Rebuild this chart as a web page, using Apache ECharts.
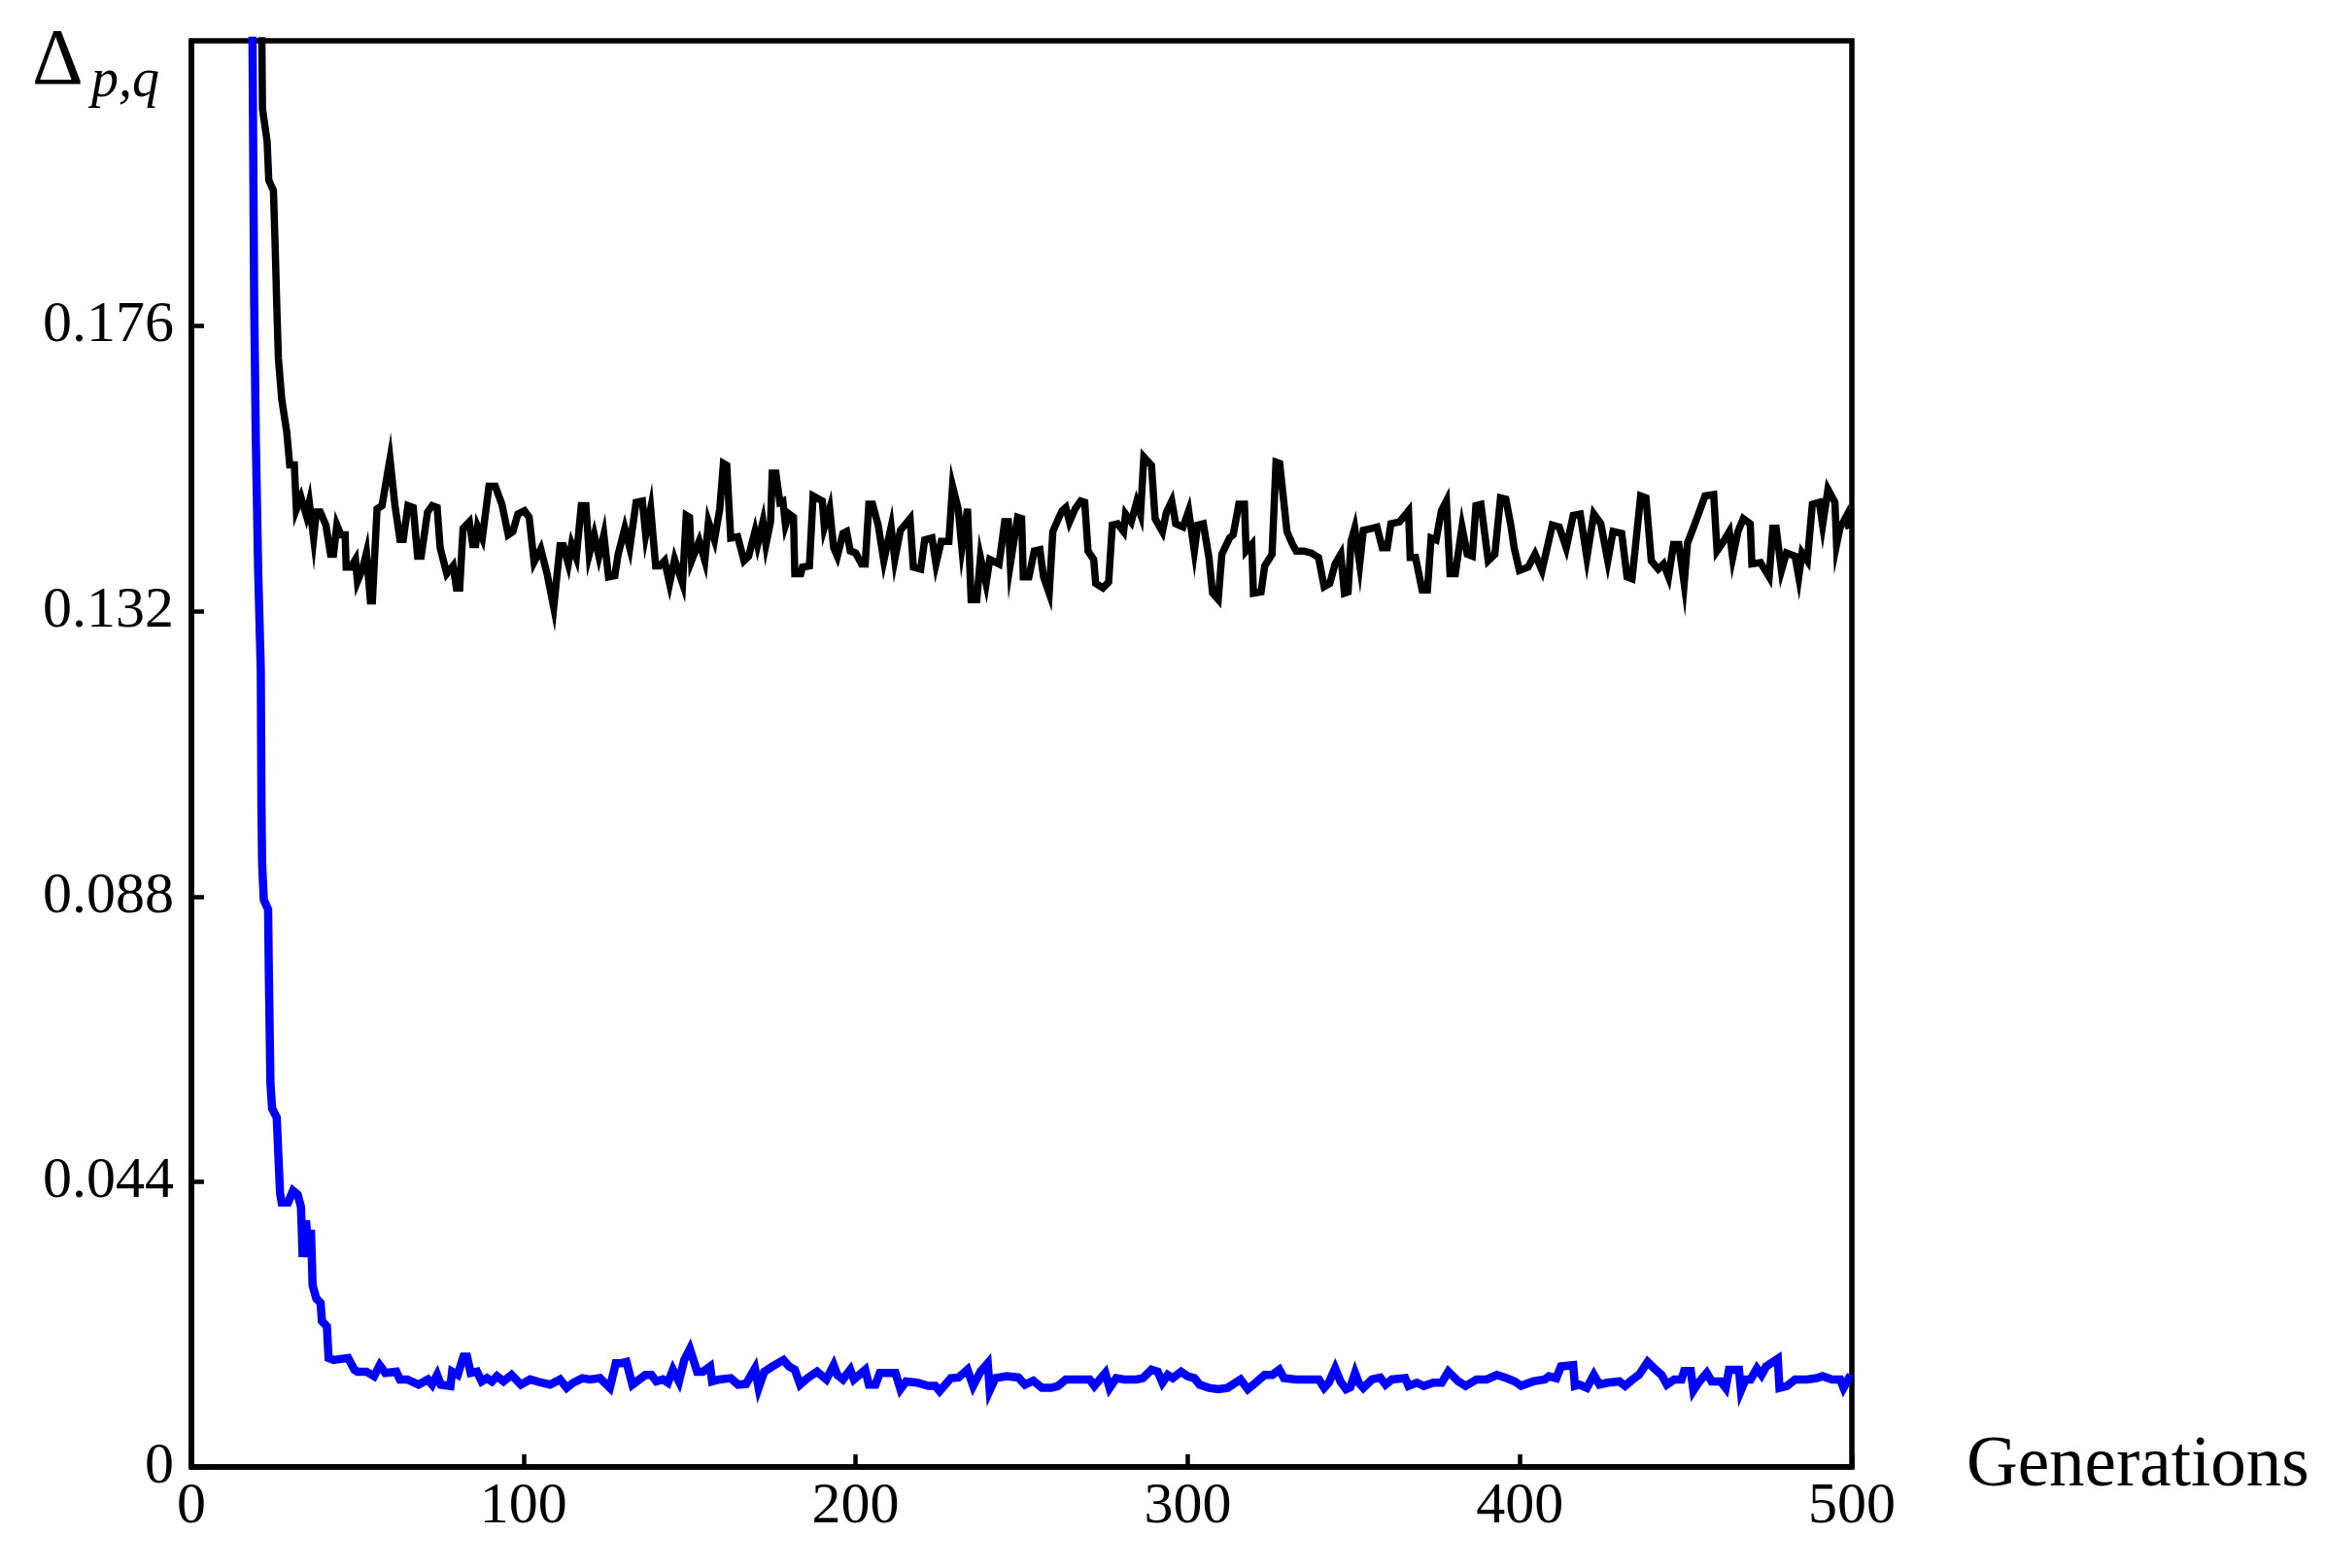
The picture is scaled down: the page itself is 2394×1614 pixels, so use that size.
<!DOCTYPE html>
<html>
<head>
<meta charset="utf-8">
<script src="https://cdn.jsdelivr.net/npm/echarts@6/dist/echarts.min.js"></script>
<style>
html,body{margin:0;padding:0;background:#fff;}
#chart{width:2394px;height:1614px;}
</style>
</head>
<body>
<div id="chart"></div>
<script>
// ---- data ----
const xTicks = [0, 100, 200, 300, 400, 500];
const yTicks = [0, 0.044, 0.088, 0.132, 0.176];
const xAxisName = 'Generations';

const blackGen = [20.8,21.4,22.8,23.3,24.7,25.2,25.7,26.2,27.2,28.7,29.6,31.0,31.6,33.0,34.6,35.5,36.8,37.6,38.8,40.5,41.9,42.8,43.8,45.0,46.3,46.6,48.0,49.4,50.0,51.5,52.7,53.9,54.5,55.9,57.4,59.8,61.3,62.8,63.8,65.2,66.8,68.1,69.2,71.1,72.5,74.0,74.9,76.9,78.8,79.8,80.8,81.8,83.7,84.7,85.6,86.2,87.6,89.6,91.5,93.5,95.4,96.8,98.3,100.3,101.7,103.2,105.2,107.1,109.1,111.0,112.0,113.5,114.5,115.9,117.4,118.8,119.8,121.3,122.7,124.2,125.6,127.5,128.5,130.5,132.0,133.9,135.8,136.8,138.3,139.8,141.0,142.5,144.0,145.5,147.9,149.0,150.0,150.6,152.9,154.6,155.7,157.5,159.1,160.2,161.2,162.4,164.5,166.4,167.8,169.7,170.5,172.1,173.0,174.4,174.9,176.0,177.2,178.1,178.9,180.0,181.3,181.7,183.5,184.0,186.1,187.2,190.0,190.6,192.2,193.4,194.5,196.2,197.3,198.4,200.0,201.8,202.9,204.0,205.1,206.8,208.5,210.7,211.8,213.5,216.4,217.4,219.6,220.8,223.0,224.2,225.8,228.1,229.2,230.9,232.0,233.7,234.8,236.5,237.6,239.3,240.4,243.2,244.9,246.0,246.6,248.8,250.0,250.5,252.2,253.8,255.5,256.6,258.3,259.4,261.1,262.2,263.3,264.4,266.1,267.8,269.0,270.0,271.7,272.3,274.5,276.2,277.3,278.9,280.7,281.3,283.0,284.6,285.8,286.8,289.1,290.2,292.4,293.6,295.2,296.4,298.6,300.3,302.0,303.0,304.7,306.4,307.5,309.2,310.3,312.6,313.7,315.4,317.1,317.6,319.3,319.8,322.1,323.2,325.4,326.6,327.7,329.9,331.6,332.7,334.9,337.2,339.4,341.1,342.8,344.4,346.1,347.2,348.3,349.2,350.3,351.8,352.9,355.5,357.0,358.6,360.1,361.2,363.8,366.5,367.0,368.6,370.6,372.2,373.3,374.8,376.4,377.9,379.0,380.6,382.6,384.2,385.7,386.8,388.3,390.5,392.5,394.2,395.8,397.3,398.3,399.9,402.5,404.6,406.7,409.8,411.9,414.0,416.1,418.2,420.2,422.3,424.4,426.5,428.1,430.7,432.3,433.8,434.9,436.4,438.0,439.6,441.7,443.3,444.8,446.3,447.9,449.5,450.5,452.6,455.8,458.4,459.4,461.0,463.1,464.1,465.7,467.3,469.4,469.9,472.5,475.1,476.2,477.2,478.8,480.3,482.9,484.0,485.0,486.6,488.1,490.2,491.2,492.8,494.9,495.4,496.4,498.5,499.0,500.0];
const blackVal = [0.245,0.2095,0.2045,0.1985,0.1969,0.1887,0.1792,0.1710,0.1647,0.1597,0.1546,0.1546,0.1477,0.1496,0.1468,0.1488,0.1433,0.1473,0.1473,0.1453,0.1408,0.1408,0.1453,0.1438,0.1438,0.1388,0.1388,0.1400,0.1366,0.1385,0.1410,0.1336,0.1336,0.1478,0.1483,0.1555,0.1483,0.1431,0.1431,0.1483,0.1480,0.1405,0.1405,0.1473,0.1483,0.1480,0.1418,0.1378,0.1390,0.1356,0.1356,0.1448,0.1458,0.1423,0.1423,0.1450,0.1433,0.1513,0.1513,0.1485,0.1438,0.1443,0.1470,0.1475,0.1465,0.1396,0.1416,0.1378,0.1326,0.1421,0.1421,0.1393,0.1423,0.1403,0.1483,0.1483,0.1408,0.1438,0.1405,0.1438,0.1373,0.1375,0.1408,0.1448,0.1418,0.1488,0.1490,0.1438,0.1478,0.1390,0.1390,0.1398,0.1363,0.1400,0.1363,0.1468,0.1465,0.1398,0.1428,0.1398,0.1458,0.1430,0.1478,0.1548,0.1545,0.1433,0.1435,0.1398,0.1405,0.1443,0.1423,0.1458,0.1423,0.1458,0.1533,0.1533,0.1488,0.1490,0.1453,0.1470,0.1465,0.1378,0.1378,0.1388,0.1390,0.1498,0.1490,0.1450,0.1478,0.1418,0.1405,0.1440,0.1443,0.1413,0.1410,0.1393,0.1393,0.1485,0.1485,0.1453,0.1398,0.1450,0.1400,0.1445,0.1463,0.1388,0.1385,0.1430,0.1433,0.1393,0.1428,0.1428,0.1513,0.1478,0.1418,0.1478,0.1338,0.1338,0.1403,0.1363,0.1400,0.1393,0.1458,0.1458,0.1393,0.1465,0.1463,0.1373,0.1373,0.1413,0.1415,0.1373,0.1348,0.1443,0.1463,0.1475,0.1480,0.1458,0.1478,0.1490,0.1488,0.1413,0.1400,0.1363,0.1356,0.1365,0.1453,0.1455,0.1443,0.1470,0.1458,0.1488,0.1470,0.1558,0.1545,0.1463,0.1443,0.1473,0.1490,0.1455,0.1450,0.1475,0.1413,0.1453,0.1455,0.1403,0.1348,0.1338,0.1408,0.1433,0.1438,0.1485,0.1485,0.1413,0.1423,0.1348,0.1350,0.1390,0.1408,0.1550,0.1548,0.1443,0.1423,0.1413,0.1413,0.1410,0.1403,0.1358,0.1363,0.1393,0.1408,0.1348,0.1350,0.1428,0.1448,0.1393,0.1445,0.1448,0.1450,0.1418,0.1418,0.1455,0.1458,0.1475,0.1403,0.1403,0.1353,0.1353,0.1433,0.1430,0.1475,0.1490,0.1378,0.1378,0.1450,0.1408,0.1405,0.1483,0.1485,0.1398,0.1408,0.1495,0.1493,0.1453,0.1418,0.1383,0.1388,0.1408,0.1383,0.1453,0.1450,0.1418,0.1468,0.1470,0.1403,0.1470,0.1455,0.1398,0.1443,0.1440,0.1373,0.1370,0.1423,0.1498,0.1495,0.1398,0.1385,0.1393,0.1373,0.1423,0.1423,0.1363,0.1425,0.1453,0.1498,0.1500,0.1413,0.1425,0.1443,0.1403,0.1443,0.1463,0.1455,0.1393,0.1395,0.1373,0.1448,0.1448,0.1383,0.1410,0.1405,0.1373,0.1410,0.1398,0.1485,0.1488,0.1453,0.1508,0.1488,0.1423,0.1448,0.1468,0.1453,0.1455];

const blueGen = [17.6,18.4,18.9,19.4,20.1,20.9,21.1,21.3,21.8,23.1,23.3,23.8,24.3,25.7,26.2,26.7,27.2,29.1,30.6,32.0,33.0,33.5,34.5,35.5,36.0,36.5,37.6,38.9,39.3,40.8,41.3,42.8,47.2,49.1,50.0,52.7,55.0,56.7,58.4,61.7,62.8,65.0,68.4,71.2,72.5,74.0,75.1,78.0,78.5,80.2,81.9,83.0,84.1,86.0,87.4,89.0,90.5,92.0,94.0,96.4,99.2,102.0,105.4,108.0,111.0,113.0,115.0,117.7,120.0,123.0,126.0,127.8,129.5,131.0,132.8,136.7,138.5,140.0,142.0,143.5,145.0,146.8,148.4,150.1,152.3,154.0,156.2,156.8,159.0,162.4,164.6,167.0,169.7,170.8,172.5,174.9,178.3,180.0,181.7,183.3,185.5,188.4,191.2,193.4,194.5,196.2,198.4,199.5,202.9,204.0,206.0,207.3,212.0,213.5,215.2,218.5,221.9,224.0,225.3,228.7,231.0,233.7,235.4,237.6,239.8,240.4,242.1,245.5,249.0,251.0,253.5,256.1,259.0,261.0,263.3,267.0,270.5,271.9,275.2,276.5,278.5,281.0,284.5,286.5,289.1,291.0,292.4,294.0,295.5,298.0,300.0,302.0,303.6,306.4,309.2,312.0,315.9,318.1,320.5,323.2,325.5,327.6,329.0,332.7,336.0,339.5,341.1,342.5,344.4,346.0,347.7,349.0,350.4,351.5,352.9,355.5,358.0,359.6,361.5,365.5,366.5,369.0,371.1,374.0,376.5,378.5,381.5,383.7,387.0,390.0,393.1,396.0,398.5,400.4,404.0,407.5,408.8,411.0,412.4,416.1,416.6,418.0,420.2,422.3,424.0,426.5,430.0,431.7,434.0,435.9,438.5,440.5,442.7,444.3,446.5,448.7,449.5,451.5,452.3,453.8,456.3,457.8,460.5,462.0,463.0,466.0,466.6,468.0,469.5,471.4,472.8,474.2,477.7,478.2,480.5,482.9,486.5,489.5,491.2,494.0,496.5,497.5,499.1,500.0];
const blueVal = [0.255,0.2202,0.1798,0.1584,0.1383,0.1228,0.1016,0.0931,0.0875,0.0860,0.0769,0.0592,0.0553,0.0539,0.0479,0.0422,0.0408,0.0408,0.0426,0.0420,0.0401,0.0324,0.0380,0.0324,0.0366,0.0280,0.0260,0.0253,0.0225,0.0217,0.0168,0.0165,0.0168,0.0150,0.0147,0.0147,0.0140,0.0157,0.0145,0.0147,0.0135,0.0135,0.0127,0.0135,0.0127,0.0142,0.0127,0.0125,0.0147,0.0142,0.0170,0.0170,0.0145,0.0147,0.0132,0.0137,0.0132,0.0140,0.0132,0.0142,0.0127,0.0135,0.0130,0.0127,0.0135,0.0122,0.0130,0.0137,0.0135,0.0137,0.0122,0.0160,0.0160,0.0162,0.0127,0.0142,0.0142,0.0132,0.0135,0.0130,0.0150,0.0132,0.0165,0.0182,0.0147,0.0147,0.0155,0.0132,0.0135,0.0137,0.0127,0.0128,0.0152,0.0122,0.0147,0.0155,0.0165,0.0155,0.0150,0.0127,0.0137,0.0147,0.0135,0.0157,0.0142,0.0135,0.0150,0.0135,0.0150,0.0127,0.0127,0.0145,0.0145,0.0120,0.0132,0.0130,0.0125,0.0125,0.0117,0.0137,0.0138,0.0150,0.0125,0.0147,0.0160,0.0118,0.0137,0.0140,0.0138,0.0127,0.0133,0.0122,0.0122,0.0125,0.0135,0.0135,0.0135,0.0125,0.0145,0.0122,0.0137,0.0135,0.0135,0.0137,0.0150,0.0147,0.0130,0.0142,0.0137,0.0147,0.0140,0.0137,0.0127,0.0122,0.0120,0.0122,0.0135,0.0120,0.0130,0.0142,0.0142,0.0150,0.0137,0.0135,0.0135,0.0135,0.0122,0.0130,0.0152,0.0132,0.0120,0.0123,0.0145,0.0130,0.0122,0.0135,0.0138,0.0127,0.0135,0.0137,0.0125,0.0130,0.0125,0.0130,0.0130,0.0147,0.0132,0.0125,0.0135,0.0135,0.0142,0.0137,0.0132,0.0125,0.0132,0.0135,0.0140,0.0137,0.0155,0.0157,0.0125,0.0127,0.0122,0.0142,0.0127,0.0130,0.0132,0.0125,0.0135,0.0142,0.0162,0.0152,0.0142,0.0127,0.0135,0.0135,0.0148,0.0148,0.0118,0.0130,0.0145,0.0132,0.0132,0.0122,0.0150,0.0150,0.0118,0.0135,0.0135,0.0152,0.0142,0.0155,0.0167,0.0122,0.0125,0.0135,0.0135,0.0137,0.0140,0.0135,0.0135,0.0122,0.0137,0.0135];

// ---- chart ----
const FONT = '"Liberation Serif", "Times New Roman", serif';
const pairs = (g, v) => g.map((x, i) => [x, v[i]]);

const chart = echarts.init(document.getElementById('chart'), null, { renderer: 'canvas' });
chart.setOption({
  animation: false,
  backgroundColor: '#ffffff',
  grid: { left: 197, right: 488, top: 42, bottom: 104, show: true, borderColor: '#000', borderWidth: 5.5, backgroundColor: 'transparent' },
  xAxis: {
    type: 'value', min: xTicks[0], max: xTicks[xTicks.length - 1], interval: xTicks[1] - xTicks[0],
    name: xAxisName, nameLocation: 'end', nameGap: 118,
    nameTextStyle: { fontFamily: FONT, fontSize: 73, color: '#000', verticalAlign: 'middle', padding: [0, 0, 6, 0] },
    axisLine: { show: true, lineStyle: { color: '#000', width: 5.5 } },
    axisTick: { show: true, inside: true, length: 13, lineStyle: { color: '#000', width: 4.5 } },
    axisLabel: { fontFamily: FONT, fontSize: 60, color: '#000', margin: 11 },
    splitLine: { show: false }
  },
  yAxis: {
    type: 'value', min: 0, max: 0.22, interval: yTicks[1] - yTicks[0],
    axisLine: { show: true, lineStyle: { color: '#000', width: 5.5 } },
    axisTick: { show: true, inside: true, length: 13, lineStyle: { color: '#000', width: 4.5 } },
    axisLabel: {
      fontFamily: FONT, fontSize: 60, color: '#000', margin: 18, showMaxLabel: false,
      formatter: v => { const t = yTicks.find(k => Math.abs(k - v) < 1e-9); return t === undefined ? '' : (t === 0 ? '0' : t.toFixed(3)); }
    },
    splitLine: { show: false }
  },
  graphic: [
    { type: 'text', x: 33, y: 64, style: { text: 'Δ', fontFamily: FONT, fontSize: 82, fill: '#000', align: 'left', verticalAlign: 'middle' } },
    { type: 'text', x: 94, y: 84, style: { text: 'p,q', fontFamily: FONT, fontSize: 56, fontStyle: 'italic', fill: '#000', align: 'left', verticalAlign: 'middle' } }
  ],
  series: [
    { type: 'line', name: 'blue', data: pairs(blueGen, blueVal), showSymbol: false, symbol: 'none', clip: true,
      lineStyle: { color: '#0000ff', width: 8.5, join: 'miter' } },
    { type: 'line', name: 'black', data: pairs(blackGen, blackVal), showSymbol: false, symbol: 'none', clip: true,
      lineStyle: { color: '#000000', width: 7.5, join: 'miter' } }
  ]
});
</script>
</body>
</html>
